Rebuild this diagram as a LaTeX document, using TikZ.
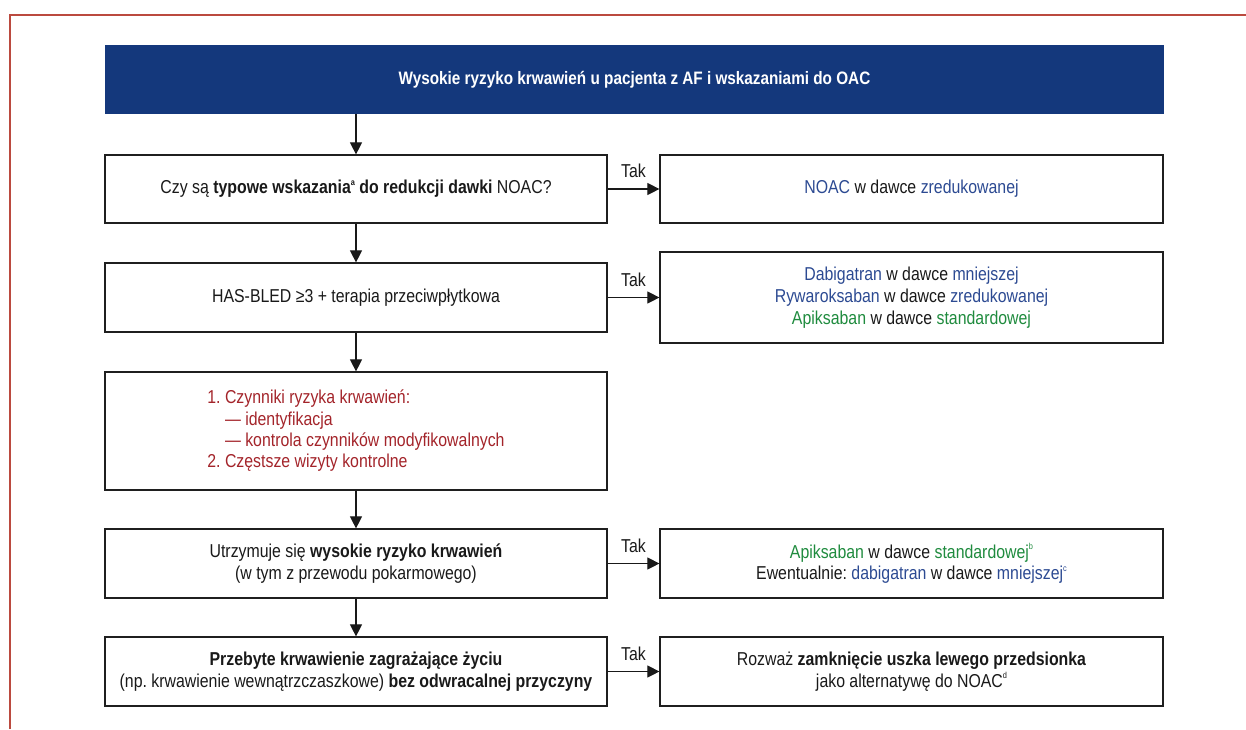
\documentclass[tikz,border=0pt]{standalone}
\usepackage{fontspec}
\setmainfont{Liberation Sans}[FakeStretch=0.85]
\usetikzlibrary{arrows.meta}
\definecolor{hdrblue}{HTML}{14387C}
\definecolor{txtblue}{HTML}{2C4A92}
\definecolor{txtgreen}{HTML}{1F8B3E}
\definecolor{txtred}{HTML}{A3242A}
\definecolor{framered}{HTML}{BB4A3F}
\newcommand\supx[1]{\raisebox{0.85ex}{\fontsize{6.5pt}{6.5pt}\selectfont #1}}
\newcommand\bl[1]{\textcolor{txtblue}{#1}}
\newcommand\gr[1]{\textcolor{txtgreen}{#1}}
\frenchspacing
\tikzset{
  basefont/.style={font=\fontsize{14pt}{16.3pt}\selectfont},
  box/.style={basefont, draw=black!88, line width=0.9pt, rectangle, inner sep=2pt, align=center, text=black!90},
  lbox/.style={box, minimum width=376.5pt},
  rbox/.style={box, minimum width=377.25pt},
  hdr/.style={font=\fontsize{13.5pt}{16.3pt}\selectfont, fill=hdrblue, text=white, minimum width=794.25pt, minimum height=51.75pt, inner sep=0pt, align=center},
  arr/.style={-{Triangle[length=9pt,width=9pt]}, line width=0.8pt, draw=black!90},
  tak/.style={basefont, above=8pt, inner sep=0pt, text=black!90}
}
\begin{document}
\begin{tikzpicture}[x=0.75pt,y=-0.75pt]
\useasboundingbox (0,0) rectangle (1246,729);
% frame
\draw[framered, line width=1.1pt] (10,729) -- (10,15) -- (1246,15);
% header
\node[hdr] (h) at (634.5,79.5) {\bfseries Wysokie ryzyko krwawień u pacjenta z AF i wskazaniami do OAC};
% left column
\node[lbox, minimum height=51pt] (q1) at (356,189) {Czy są \textbf{typowe wskazania\supx{a} do redukcji dawki} NOAC?};
\node[lbox, minimum height=51.75pt] (q2) at (356,297.5) {HAS-BLED ≥3 + terapia przeciwpłytkowa};
\node[lbox, minimum height=88.5pt] (q3) at (356,431) {\begin{tabular}{@{}l@{}}\color{txtred}1. Czynniki ryzyka krwawień:\\[0.5pt]
\color{txtred}\phantom{1. }— identyfikacja\\[-0.5pt]
\color{txtred}\phantom{1. }— kontrola czynników modyfikowalnych\\[-0.5pt]
\color{txtred}2. Częstsze wizyty kontrolne\end{tabular}};
\node[lbox, minimum height=51.75pt] (q4) at (356,563.5) {Utrzymuje się \textbf{wysokie ryzyko krwawień}\\(w tym z przewodu pokarmowego)};
\node[lbox, minimum height=51.75pt] (q5) at (356,671.5) {\textbf{Przebyte krwawienie zagrażające życiu}\\(np. krwawienie wewnątrzczaszkowe) \textbf{bez odwracalnej przyczyny}};
% right column
\node[rbox, minimum height=51pt] (r1) at (911.5,189) {\bl{NOAC} w dawce \bl{zredukowanej}};
\node[rbox, minimum height=68.25pt] (r2) at (911.5,297.5) {\bl{Dabigatran} w dawce \bl{mniejszej}\\\bl{Rywaroksaban} w dawce \bl{zredukowanej}\\\gr{Apiksaban} w dawce \gr{standardowej}};
\node[rbox, minimum height=51.75pt] (r4) at (911.5,563.5) {\gr{Apiksaban} w dawce \gr{standardowej\supx{b}}\\Ewentualnie: \bl{dabigatran} w dawce \bl{mniejszej\supx{c}}};
\node[rbox, minimum height=51.75pt] (r5) at (911.5,671.5) {Rozważ \textbf{zamknięcie uszka lewego przedsionka}\\jako alternatywę do NOAC\supx{d}};
% vertical connectors
\draw[arr] (q1|-h.south) -- (q1.north);
\draw[arr] (q1) -- (q2);
\draw[arr] (q2) -- (q3);
\draw[arr] (q3) -- (q4);
\draw[arr] (q4) -- (q5);
% Tak connectors
\draw[arr] (q1) -- node[tak] {Tak} (r1);
\draw[arr] (q2) -- node[tak] {Tak} (r2);
\draw[arr] (q4) -- node[tak] {Tak} (r4);
\draw[arr] (q5) -- node[tak] {Tak} (r5);
\end{tikzpicture}
\end{document}
